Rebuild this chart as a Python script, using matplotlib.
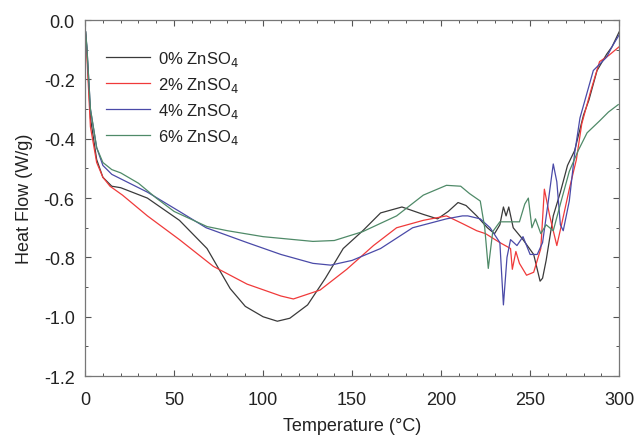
import matplotlib.pyplot as plt
from matplotlib.ticker import MultipleLocator, FuncFormatter

plt.rcParams['font.family'] = ['Liberation Sans', 'DejaVu Sans']

# DSC curves: temperature (C) and heat flow (W/g)
t_0 = [0.3, 1, 3, 6.5, 10, 15, 20, 35, 53, 68.5, 81.5, 90, 100, 108, 115, 125, 135, 145,
       156, 166, 178, 190, 198, 204, 209.5, 214, 220, 226, 230, 233, 235, 236.5, 238, 240.5,
       246, 252, 255.6, 257, 259, 263, 267, 271, 275, 280, 283, 287.6, 293, 296, 300]
hf_0 = [-0.04, -0.1, -0.33, -0.47, -0.53, -0.56, -0.565, -0.60, -0.675, -0.77, -0.905,
        -0.965, -1.0, -1.015, -1.005, -0.96, -0.87, -0.77, -0.71, -0.65, -0.63, -0.655,
        -0.67, -0.645, -0.615, -0.625, -0.66, -0.70, -0.72, -0.69, -0.63, -0.66, -0.63,
        -0.70, -0.74, -0.79, -0.88, -0.87, -0.81, -0.66, -0.58, -0.49, -0.44, -0.32, -0.27,
        -0.17, -0.115, -0.09, -0.04]

t_2 = [0.3, 1, 3, 6.5, 10, 14, 21, 35, 53, 72, 91, 110, 117, 132, 147, 162, 175, 190, 203,
       212, 220, 225, 233, 239, 240, 242, 244, 248, 252, 256, 258, 261, 265, 268, 272, 276,
       279, 284, 289, 294, 300]
hf_2 = [-0.05, -0.12, -0.36, -0.48, -0.53, -0.56, -0.59, -0.66, -0.74, -0.83, -0.89, -0.93,
        -0.94, -0.91, -0.84, -0.76, -0.70, -0.675, -0.66, -0.686, -0.71, -0.72, -0.75,
        -0.77, -0.84, -0.78, -0.82, -0.86, -0.85, -0.77, -0.57, -0.66, -0.76, -0.68, -0.57,
        -0.47, -0.35, -0.24, -0.14, -0.12, -0.09]

t_4 = [0.3, 1, 3, 6.5, 10, 15, 35, 53, 68, 91, 110, 128, 138, 150, 166, 184, 203, 212, 215,
       222, 227.5, 233, 235, 237, 239, 242.6, 246, 250, 254, 257, 260, 263, 265, 267, 268.6,
       272, 275, 278, 285.5, 293, 296, 300]
hf_4 = [-0.04, -0.09, -0.3, -0.43, -0.49, -0.52, -0.58, -0.645, -0.70, -0.75, -0.79, -0.82,
        -0.826, -0.81, -0.77, -0.70, -0.67, -0.66, -0.66, -0.67, -0.70, -0.75, -0.96, -0.80,
        -0.74, -0.76, -0.73, -0.79, -0.79, -0.75, -0.62, -0.485, -0.545, -0.69, -0.71,
        -0.61, -0.45, -0.33, -0.17, -0.125, -0.09, -0.05]

t_6 = [0.3, 1, 3, 6.5, 10, 15, 20, 30, 40, 50, 68.5, 80, 100, 128, 140, 156, 175, 190, 203,
       211, 216, 222, 224.5, 226.5, 229, 233, 238, 244, 247, 249, 251, 253, 256, 259, 263,
       267, 272, 277, 282, 289, 294, 299.5]
hf_6 = [-0.04, -0.09, -0.3, -0.43, -0.48, -0.504, -0.515, -0.55, -0.6, -0.645, -0.696,
        -0.71, -0.73, -0.746, -0.743, -0.713, -0.66, -0.59, -0.557, -0.56, -0.585, -0.61,
        -0.7, -0.837, -0.713, -0.68, -0.68, -0.68, -0.62, -0.6, -0.7, -0.67, -0.72, -0.69,
        -0.71, -0.62, -0.51, -0.44, -0.38, -0.34, -0.31, -0.285]

labels = ['0% ZnSO$_4$', '2% ZnSO$_4$', '4% ZnSO$_4$', '6% ZnSO$_4$']
colors = ['#3a3a3a', '#f03a3a', '#4a4aa8', '#4f8a68']

fig = plt.figure(figsize=(6.35, 4.39), dpi=100)
ax = fig.add_axes([0.134, 0.141, 0.841, 0.811])

for t, hf, lab, c in zip([t_0, t_2, t_4, t_6], [hf_0, hf_2, hf_4, hf_6], labels, colors):
    ax.plot(t, hf, color=c, lw=0.9, label=lab)

ax.set_xlim(0, 300)
ax.set_ylim(-1.2, 0.0)
ax.xaxis.set_major_locator(MultipleLocator(50))
ax.xaxis.set_minor_locator(MultipleLocator(10))
ax.yaxis.set_major_locator(MultipleLocator(0.2))
ax.yaxis.set_minor_locator(MultipleLocator(0.1))
ax.yaxis.set_major_formatter(FuncFormatter(lambda v, p: f'{v:.1f}'.replace('\u2212', '-')))
ax.tick_params(which='both', direction='in', top=True, right=True, colors='#555555',
               labelcolor='#222222', labelsize=13)
ax.tick_params(which='major', length=4, width=0.8)
ax.tick_params(which='minor', length=2.5, width=0.7)
ax.tick_params(axis='x', which='major', pad=11)
ax.tick_params(axis='y', which='major', pad=7.5)
for s in ax.spines.values():
    s.set_color('#777777')
    s.set_linewidth(0.9)

ax.set_xlabel('Temperature (°C)', fontsize=13, color='#222222', labelpad=6)
ax.set_ylabel('Heat Flow (W/g)', fontsize=13, color='#222222', labelpad=8)

leg = ax.legend(loc='upper left', bbox_to_anchor=(0.012, 0.962), frameon=False, fontsize=12,
                handlelength=2.6, handletextpad=0.5, labelspacing=0.42)
for txt in leg.get_texts():
    txt.set_color('#222222')

fig.savefig('out.png', dpi=100)
